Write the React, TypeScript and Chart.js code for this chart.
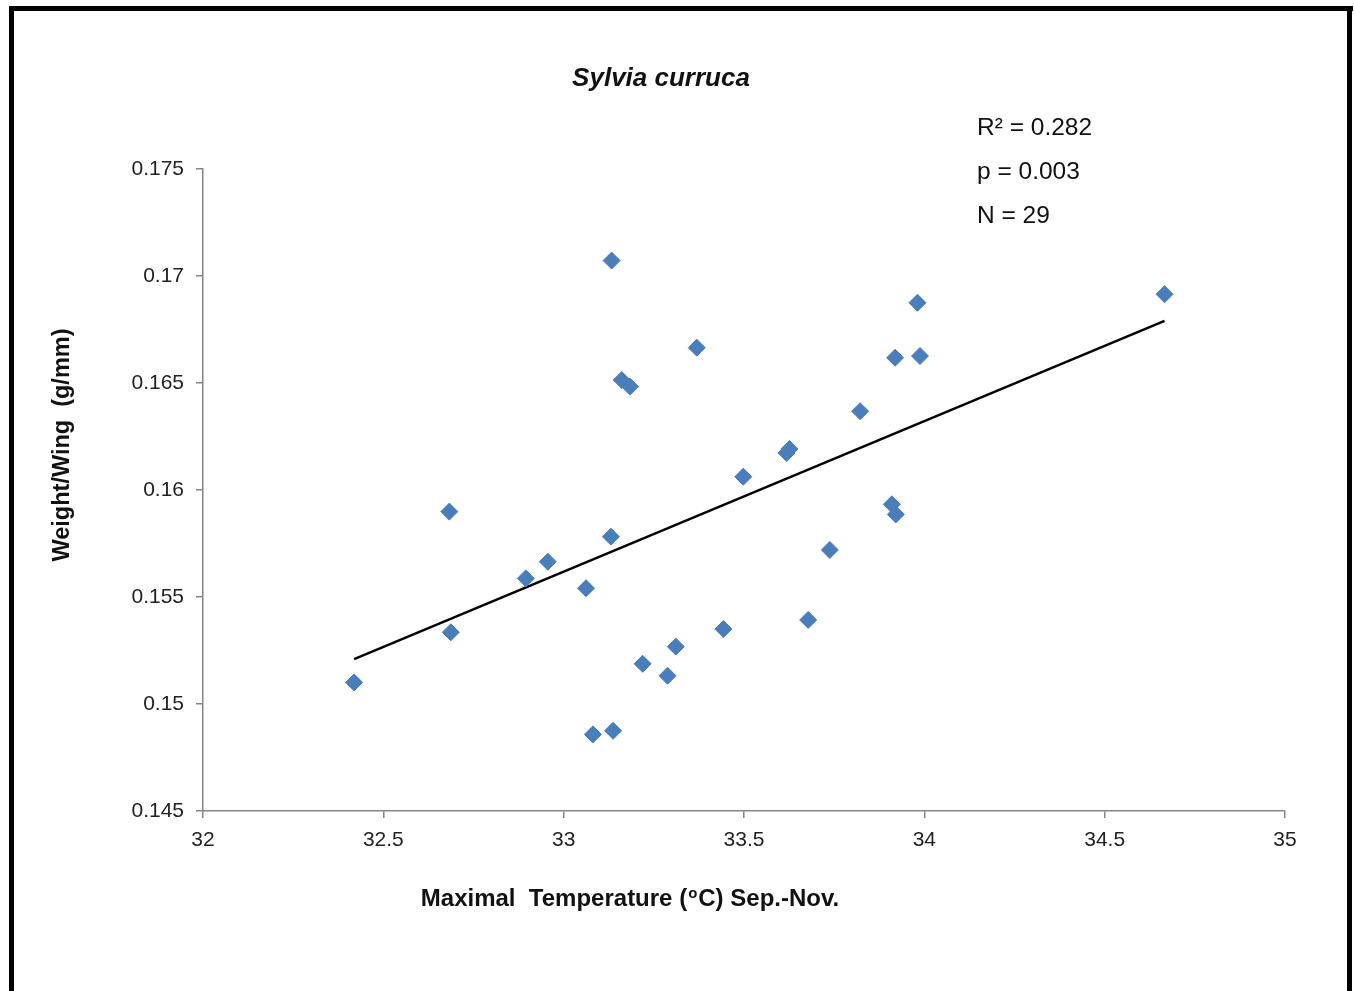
import React, { useEffect, useRef } from "react";
import { Chart, registerables } from "chart.js";

Chart.register(...registerables);

// ---- data ----
const tempX = [
  32.419, 32.683, 32.687, 32.895, 32.956, 33.062, 33.133, 33.131, 33.081, 33.137,
  33.161, 33.184, 33.219, 33.288, 33.311, 33.369, 33.443, 33.498, 33.618, 33.626,
  33.678, 33.738, 33.822, 33.91, 33.921, 33.919, 33.981, 33.988, 34.666,
];
const weightWing = [
  0.15101, 0.15899, 0.15335, 0.15587, 0.15665, 0.15541, 0.17072, 0.15782, 0.14858, 0.14875,
  0.16514, 0.16483, 0.15188, 0.15132, 0.15268, 0.16665, 0.1535, 0.16062, 0.16173, 0.16192,
  0.15393, 0.1572, 0.16368, 0.15933, 0.15886, 0.16618, 0.16875, 0.16626, 0.16915,
];
const trendX = [32.419, 34.666];
const trendY = [0.1521, 0.1679];
const xTickLabels = ["32", "32.5", "33", "33.5", "34", "34.5", "35"];
const yTickLabels = ["0.145", "0.15", "0.155", "0.16", "0.165", "0.17", "0.175"];
const titleText = "Sylvia curruca";
const statsLines = ["R\u00B2 = 0.282", "p = 0.003", "N = 29"];
const yTitle = "Weight/Wing  (g/mm)";
const xTitleParts = ["Maximal  Temperature (", "o", "C) Sep.-Nov."];

const FONT = "'Liberation Sans', Arial, Helvetica, sans-serif";

const overlayPlugin = {
  id: "overlay",
  afterDraw(chart: any) {
    const ctx = chart.ctx as CanvasRenderingContext2D;
    ctx.save();
    // frame
    ctx.fillStyle = "#000";
    ctx.fillRect(9, 6, 5, 991);
    ctx.fillRect(9, 6, 1344, 5);
    ctx.fillRect(1347, 6, 5, 991);

    // title
    ctx.fillStyle = "#111";
    ctx.font = `italic bold 26px ${FONT}`;
    ctx.textAlign = "center";
    ctx.textBaseline = "middle";
    ctx.fillText(titleText, 661, 79);

    // stats
    ctx.font = `24.5px ${FONT}`;
    ctx.textAlign = "left";
    statsLines.forEach((s, i) => ctx.fillText(s, 977, 128 + i * 44));

    // y title
    ctx.save();
    ctx.translate(63, 445);
    ctx.rotate(-Math.PI / 2);
    ctx.font = `bold 23.5px ${FONT}`;
    ctx.textAlign = "center";
    ctx.fillText(yTitle, 0, 0);
    ctx.restore();

    // x title with superscript
    ctx.font = `bold 24px ${FONT}`;
    const w0 = ctx.measureText(xTitleParts[0]).width;
    const w2 = ctx.measureText(xTitleParts[2]).width;
    ctx.font = `bold 15px ${FONT}`;
    const w1 = ctx.measureText(xTitleParts[1]).width;
    const total = w0 + w1 + w2 + 2;
    let x = 630 - total / 2;
    const y = 899;
    ctx.textAlign = "left";
    ctx.font = `bold 24px ${FONT}`;
    ctx.fillText(xTitleParts[0], x, y);
    x += w0 + 1;
    ctx.font = `bold 15px ${FONT}`;
    ctx.fillText(xTitleParts[1], x, y - 5);
    x += w1 + 1;
    ctx.font = `bold 24px ${FONT}`;
    ctx.fillText(xTitleParts[2], x, y);
    ctx.restore();
  },
};

export default function App() {
  const ref = useRef<HTMLCanvasElement | null>(null);
  useEffect(() => {
    if (!ref.current) return;
    const axisColor = "#858585";
    const chart = new Chart(ref.current, {
      type: "scatter",
      data: {
        datasets: [
          {
            label: "Weight/Wing",
            data: tempX.map((x, i) => ({ x, y: weightWing[i] })),
            pointStyle: "rectRot",
            pointRadius: 8.5,
            pointBorderWidth: 1,
            backgroundColor: "#4A7EBB",
            borderColor: "#4A7EBB",
            showLine: false,
          },
          {
            label: "Trend",
            type: "line",
            data: trendX.map((x, i) => ({ x, y: trendY[i] })),
            borderColor: "#000",
            borderWidth: 2.5,
            pointRadius: 0,
            fill: false,
          } as any,
        ],
      },
      options: {
        responsive: false,
        animation: false,
        layout: { padding: { left: 0, top: 169, right: 69, bottom: 0 } },
        plugins: {
          legend: { display: false },
          tooltip: { enabled: false },
          title: { display: false },
        },
        scales: {
          x: {
            type: "linear",
            min: 32,
            max: 35,
            afterFit: (s: any) => {
              s.height = 180;
            },
            ticks: {
              stepSize: 0.5,
              padding: 10,
              color: "#222",
              font: { family: FONT, size: 21 },
              maxRotation: 0,
              callback: (_v: any, i: number) => xTickLabels[i],
            },
            grid: { drawOnChartArea: false, drawTicks: true, tickLength: 7, color: axisColor, lineWidth: 1.5 },
            border: { color: axisColor, width: 1.5 },
          },
          y: {
            type: "linear",
            min: 0.145,
            max: 0.175,
            afterFit: (s: any) => {
              s.width = 203;
            },
            ticks: {
              stepSize: 0.005,
              padding: 12,
              color: "#222",
              font: { family: FONT, size: 21 },
              callback: (_v: any, i: number) => yTickLabels[i],
            },
            grid: { drawOnChartArea: false, drawTicks: true, tickLength: 7, color: axisColor, lineWidth: 1.5 },
            border: { color: axisColor, width: 1.5 },
          },
        },
      },
      plugins: [overlayPlugin],
    });
    return () => chart.destroy();
  }, []);
  return (
    <div style={{ position: "absolute", left: 0, top: 0, width: 1354, height: 991, background: "#fff" }}>
      <canvas ref={ref} width={1354} height={991} style={{ display: "block", width: 1354, height: 991 }} />
    </div>
  );
}
